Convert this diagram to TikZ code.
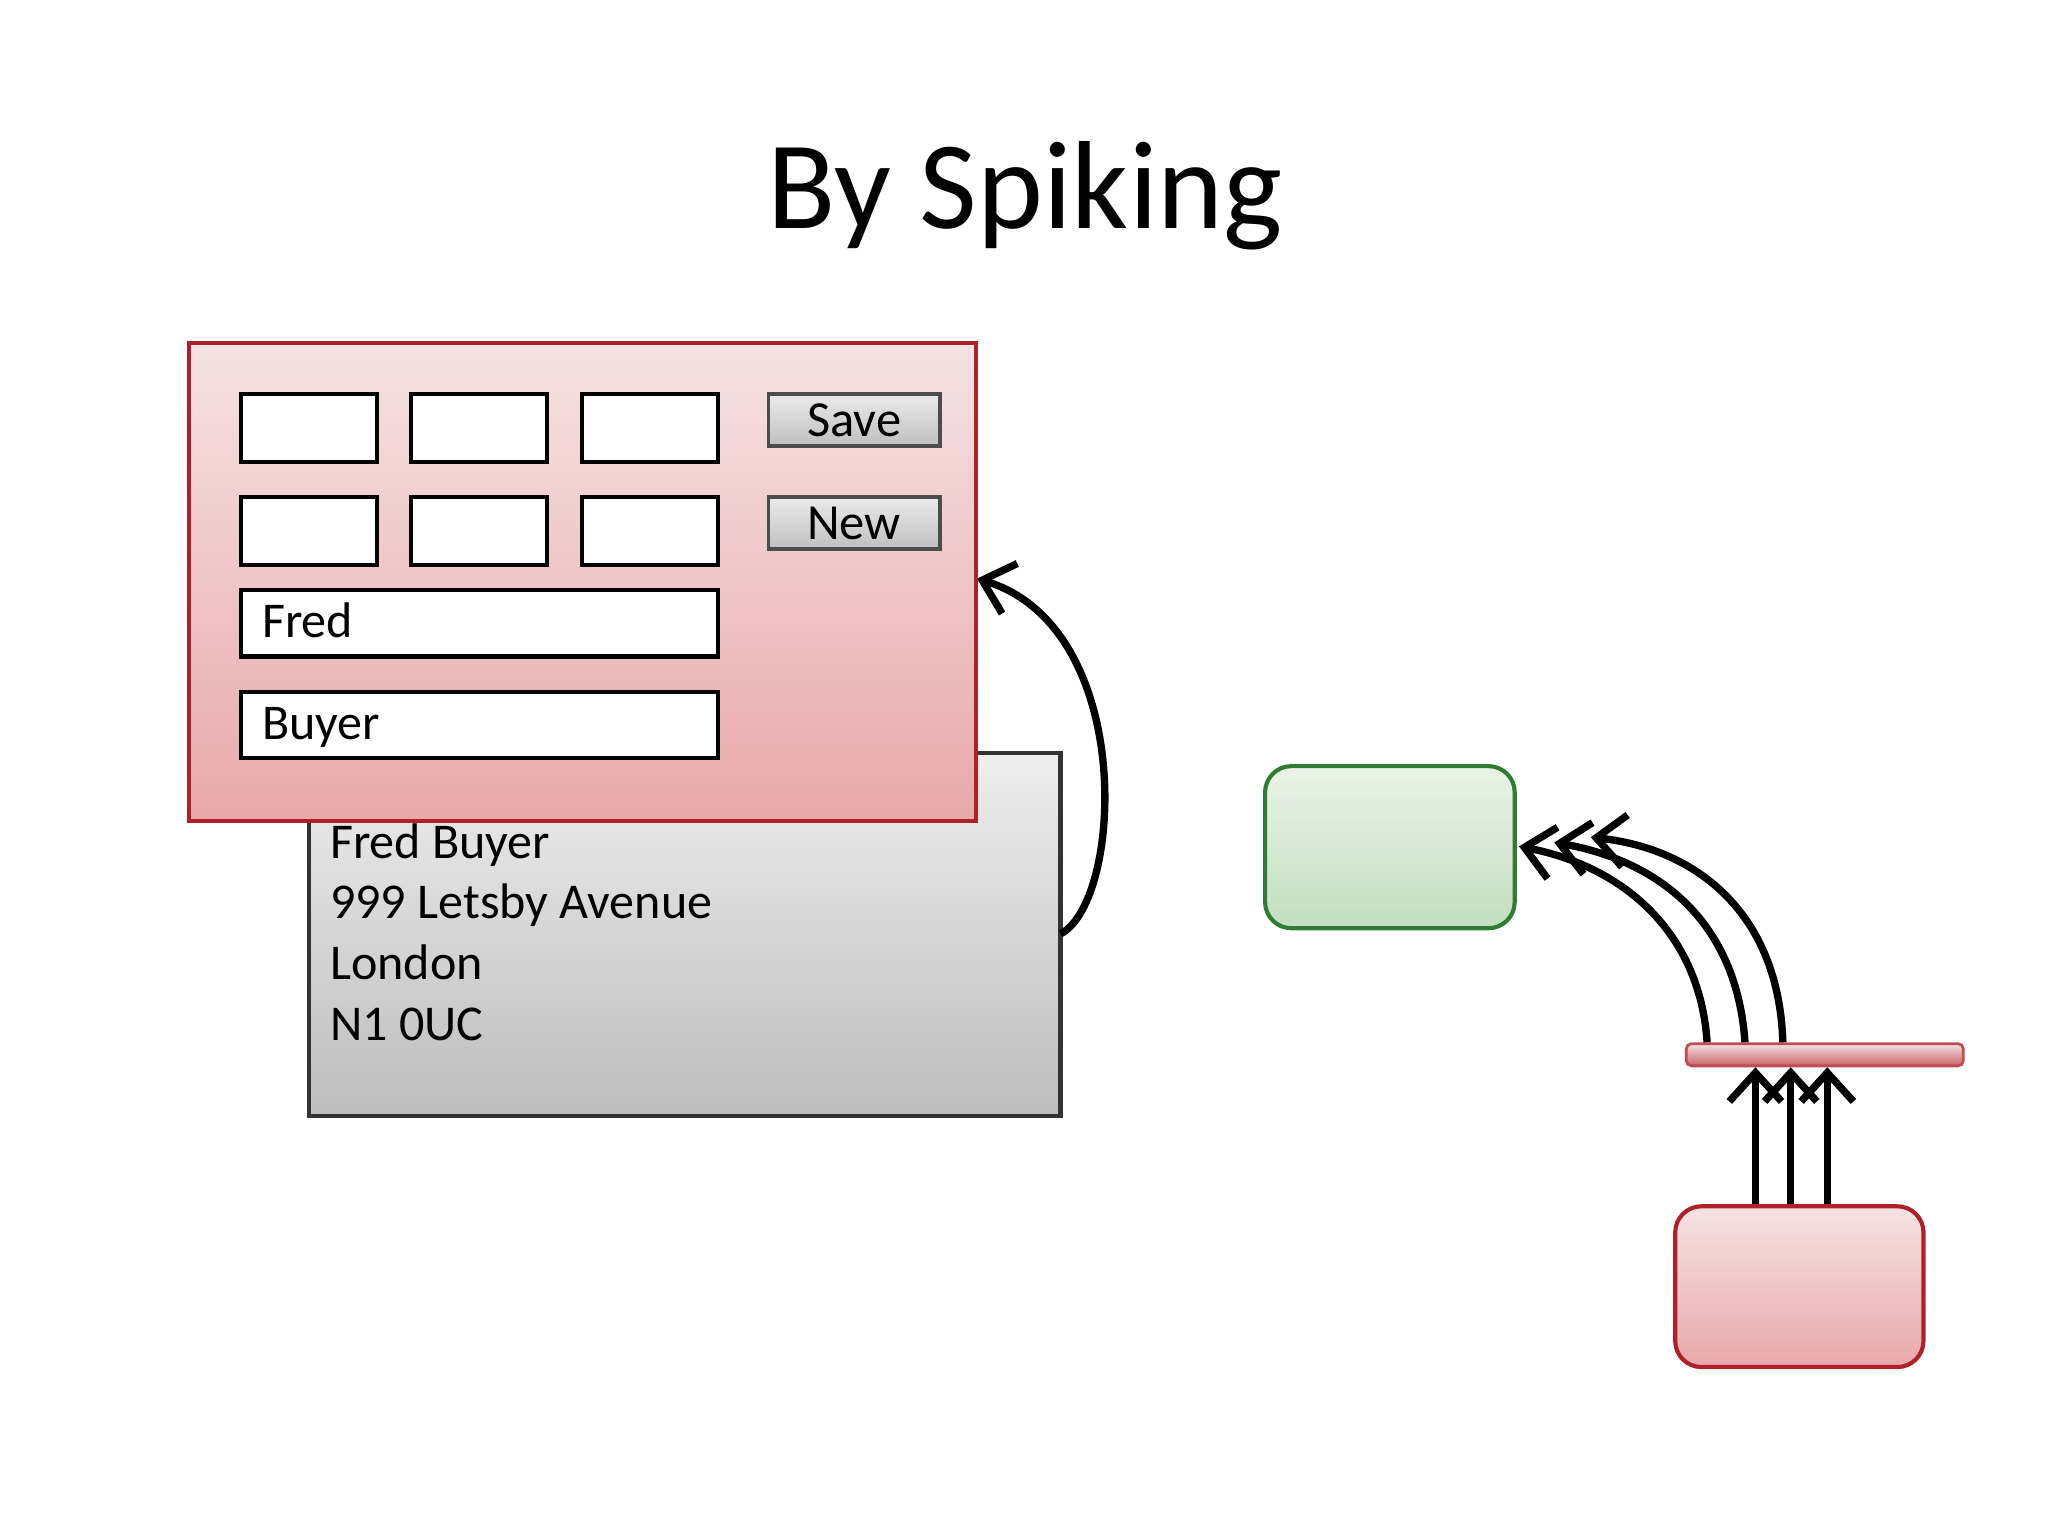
\documentclass[tikz,border=0pt]{standalone}
\usepackage{fontspec}
\setmainfont{Carlito}
\usetikzlibrary{arrows.meta}
\definecolor{formtop}{HTML}{F6E3E4}
\definecolor{formbot}{HTML}{E8A8AA}
\definecolor{formline}{HTML}{B02028}
\definecolor{cardtop}{HTML}{EEEEEE}
\definecolor{cardbot}{HTML}{BDBDBD}
\definecolor{greentop}{HTML}{EAF3E8}
\definecolor{greenbot}{HTML}{C3DEC0}
\definecolor{greenline}{HTML}{2E7D32}
\tikzset{
  px/.style={x=0.01cm,y=-0.01cm},
  field/.style={draw=black,fill=white,line width=0.9pt,anchor=north west,inner sep=0pt},
  button/.style={draw=black!70,top color=white!92!black,bottom color=black!25,line width=0.8pt,inner sep=0pt,
    minimum width=1.31cm,minimum height=0.4cm,font=\fontsize{11}{13}\selectfont,anchor=north west},
  txt/.style={font=\fontsize{10.9}{12}\selectfont,anchor=base west,inner sep=0pt},
  arr/.style={-{Straight Barb[length=2.2mm,width=4mm]},line width=1.6pt}
}
\begin{document}
\begin{tikzpicture}[px]
\useasboundingbox (0,0) rectangle (1568,1176);
\node[font=\fontsize{27.3}{30}\selectfont] (title) at (785,150) {By Spiking};
% card behind
\node[draw=black!80,line width=0.9pt,top color=cardtop,bottom color=cardbot,anchor=north west,
  minimum width=5.75cm,minimum height=2.78cm,inner sep=0pt] (card) at (235,575) {};
\node[txt] (l1) at (252,657) {Fred Buyer};
\node[txt] (l2) at (252,703) {999 Letsby Avenue};
\node[txt] (l3) at (252,750) {London};
\node[txt] (l4) at (252,797) {N1 0UC};
% form
\node[draw=formline,line width=0.9pt,top color=formtop,bottom color=formbot,anchor=north west,
  minimum width=6.02cm,minimum height=3.66cm,inner sep=0pt] (form) at (143,261) {};
\foreach \i/\x in {1/183,2/313,3/444}{
  \node[field,minimum width=1.04cm,minimum height=0.52cm] (a\i) at (\x,300) {};
  \node[field,minimum width=1.04cm,minimum height=0.52cm] (b\i) at (\x,379) {};
}
\node[field,minimum width=3.65cm,minimum height=0.51cm] (fred) at (183,450) {};
\node[txt] (fredt) at (200,488) {Fred};
\node[field,minimum width=3.65cm,minimum height=0.51cm] (buyer) at (183,528) {};
\node[txt] (buyert) at (200,566) {Buyer};
\node[button] (save) at (587,300) {Save};
\node[button] (new) at (587,379) {New};
\coordinate (cardout) at (812,715);
\coordinate (formin) at (748,443);
\draw[arr] (cardout) .. controls (860,690) and (870,480) .. (formin);
% right part
\node[draw=greenline,line width=0.9pt,rounded corners=0.2cm,top color=greentop,bottom color=greenbot,
  anchor=north west,minimum width=1.91cm,minimum height=1.24cm,inner sep=0pt] (green) at (967,585) {};
\node[draw=formline!80,line width=0.6pt,rounded corners=0.04cm,top color=formtop,bottom color=formline!70,
  anchor=north west,minimum width=2.12cm,minimum height=0.17cm,inner sep=0pt] (bar) at (1290,798) {};
\node[draw=formline,line width=0.9pt,rounded corners=0.2cm,top color=formtop,bottom color=formbot,
  anchor=north west,minimum width=1.9cm,minimum height=1.23cm,inner sep=0pt] (red) at (1281,922) {};
\foreach \x in {1344,1371,1399}
  \draw[arr] (red.north -| \x,0) -- (bar.south -| \x,0);
\coordinate (g1) at (1163,648);
\coordinate (g2) at (1190,645);
\coordinate (g3) at (1218,641);
\draw[arr] (bar.north -| 1307,0) .. controls (1302,720) and (1250,665) .. (g1);
\draw[arr] (bar.north -| 1336,0) .. controls (1330,710) and (1275,660) .. (g2);
\draw[arr] (bar.north -| 1365,0) .. controls (1362,700) and (1300,650) .. (g3);
\end{tikzpicture}
\end{document}
